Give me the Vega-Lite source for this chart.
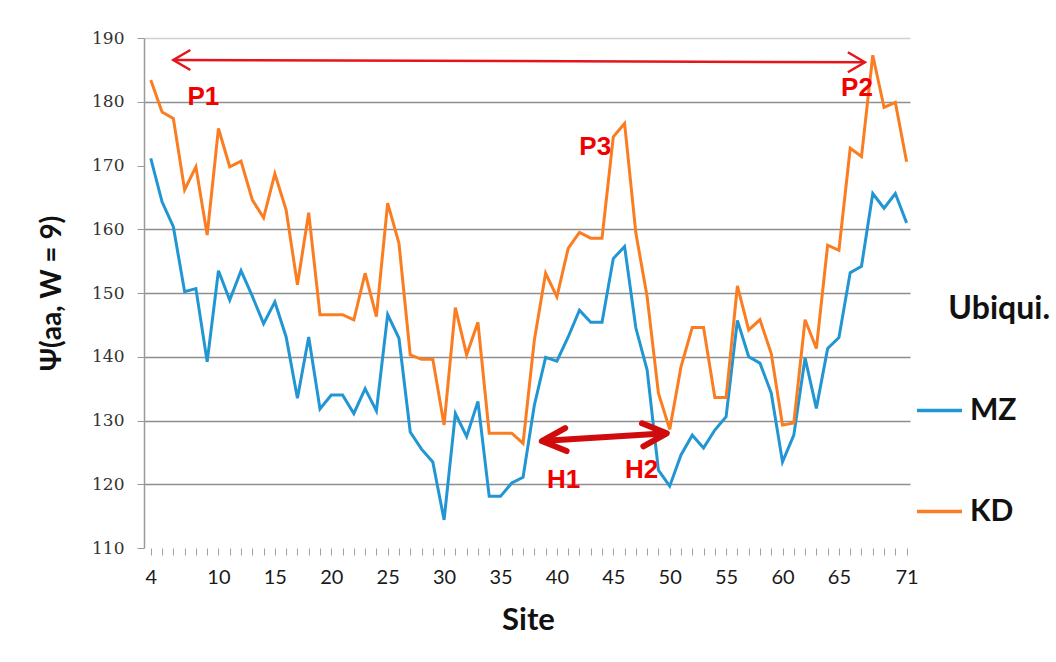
{
  "$schema": "https://vega.github.io/schema/vega-lite/v6.json",
  "width": 766,
  "height": 510,
  "autosize": {"type": "none"},
  "padding": {"left": 144, "top": 38, "right": 146, "bottom": 114},
  "background": "white",
  "config": {"view": {"stroke": null}, "font": "Lato"},
  "title": {"text": "Ubiqui.", "anchor": "end", "frame": "group", "orient": "top", "offset": 0, "dx": 140, "dy": 312, "baseline": "middle", "font": "Lato", "fontSize": 32, "fontWeight": "bold", "color": "#111111"},
  "datasets": {
    "psi": [
      {"site":4,"series":"MZ","value":171.1},{"site":5,"series":"MZ","value":164.3},{"site":6,"series":"MZ","value":160.4},{"site":7,"series":"MZ","value":150.2},{"site":8,"series":"MZ","value":150.7},{"site":9,"series":"MZ","value":139.2},{"site":10,"series":"MZ","value":153.5},{"site":11,"series":"MZ","value":148.9},{"site":12,"series":"MZ","value":153.5},{"site":13,"series":"MZ","value":149.5},{"site":14,"series":"MZ","value":145.2},{"site":15,"series":"MZ","value":148.6},{"site":16,"series":"MZ","value":143.1},{"site":17,"series":"MZ","value":133.5},{"site":18,"series":"MZ","value":143.1},{"site":19,"series":"MZ","value":131.8},{"site":20,"series":"MZ","value":134.0},{"site":21,"series":"MZ","value":134.0},{"site":22,"series":"MZ","value":131.1},{"site":23,"series":"MZ","value":135.0},{"site":24,"series":"MZ","value":131.5},{"site":25,"series":"MZ","value":146.6},{"site":26,"series":"MZ","value":142.9},{"site":27,"series":"MZ","value":128.2},{"site":28,"series":"MZ","value":125.5},{"site":29,"series":"MZ","value":123.5},{"site":30,"series":"MZ","value":114.4},{"site":31,"series":"MZ","value":131.1},{"site":32,"series":"MZ","value":127.5},{"site":33,"series":"MZ","value":133.0},{"site":34,"series":"MZ","value":118.1},{"site":35,"series":"MZ","value":118.1},{"site":36,"series":"MZ","value":120.2},{"site":37,"series":"MZ","value":121.1},{"site":38,"series":"MZ","value":132.4},{"site":39,"series":"MZ","value":139.9},{"site":40,"series":"MZ","value":139.3},{"site":41,"series":"MZ","value":143.1},{"site":42,"series":"MZ","value":147.3},{"site":43,"series":"MZ","value":145.4},{"site":44,"series":"MZ","value":145.4},{"site":45,"series":"MZ","value":155.4},{"site":46,"series":"MZ","value":157.3},{"site":47,"series":"MZ","value":144.5},{"site":48,"series":"MZ","value":137.9},{"site":49,"series":"MZ","value":122.2},{"site":50,"series":"MZ","value":119.7},{"site":51,"series":"MZ","value":124.6},{"site":52,"series":"MZ","value":127.7},{"site":53,"series":"MZ","value":125.7},{"site":54,"series":"MZ","value":128.5},{"site":55,"series":"MZ","value":130.6},{"site":56,"series":"MZ","value":145.7},{"site":57,"series":"MZ","value":140.0},{"site":58,"series":"MZ","value":139.0},{"site":59,"series":"MZ","value":134.3},{"site":60,"series":"MZ","value":123.5},{"site":61,"series":"MZ","value":127.7},{"site":62,"series":"MZ","value":139.8},{"site":63,"series":"MZ","value":131.9},{"site":64,"series":"MZ","value":141.3},{"site":65,"series":"MZ","value":143.0},{"site":66,"series":"MZ","value":153.2},{"site":67,"series":"MZ","value":154.2},{"site":68,"series":"MZ","value":165.6},{"site":69,"series":"MZ","value":163.3},{"site":70,"series":"MZ","value":165.6},{"site":71,"series":"MZ","value":161.0},
      {"site":4,"series":"KD","value":183.4},{"site":5,"series":"KD","value":178.4},{"site":6,"series":"KD","value":177.4},{"site":7,"series":"KD","value":166.2},{"site":8,"series":"KD","value":169.8},{"site":9,"series":"KD","value":159.1},{"site":10,"series":"KD","value":175.8},{"site":11,"series":"KD","value":169.8},{"site":12,"series":"KD","value":170.7},{"site":13,"series":"KD","value":164.6},{"site":14,"series":"KD","value":161.8},{"site":15,"series":"KD","value":168.7},{"site":16,"series":"KD","value":163.0},{"site":17,"series":"KD","value":151.3},{"site":18,"series":"KD","value":162.6},{"site":19,"series":"KD","value":146.6},{"site":20,"series":"KD","value":146.6},{"site":21,"series":"KD","value":146.6},{"site":22,"series":"KD","value":145.8},{"site":23,"series":"KD","value":153.1},{"site":24,"series":"KD","value":146.3},{"site":25,"series":"KD","value":164.1},{"site":26,"series":"KD","value":157.8},{"site":27,"series":"KD","value":140.3},{"site":28,"series":"KD","value":139.6},{"site":29,"series":"KD","value":139.6},{"site":30,"series":"KD","value":129.3},{"site":31,"series":"KD","value":147.7},{"site":32,"series":"KD","value":140.3},{"site":33,"series":"KD","value":145.4},{"site":34,"series":"KD","value":128.0},{"site":35,"series":"KD","value":128.0},{"site":36,"series":"KD","value":128.0},{"site":37,"series":"KD","value":126.4},{"site":38,"series":"KD","value":142.6},{"site":39,"series":"KD","value":153.1},{"site":40,"series":"KD","value":149.4},{"site":41,"series":"KD","value":157.0},{"site":42,"series":"KD","value":159.5},{"site":43,"series":"KD","value":158.6},{"site":44,"series":"KD","value":158.6},{"site":45,"series":"KD","value":174.5},{"site":46,"series":"KD","value":176.6},{"site":47,"series":"KD","value":159.4},{"site":48,"series":"KD","value":149.4},{"site":49,"series":"KD","value":134.3},{"site":50,"series":"KD","value":128.6},{"site":51,"series":"KD","value":138.4},{"site":52,"series":"KD","value":144.6},{"site":53,"series":"KD","value":144.6},{"site":54,"series":"KD","value":133.6},{"site":55,"series":"KD","value":133.6},{"site":56,"series":"KD","value":151.1},{"site":57,"series":"KD","value":144.2},{"site":58,"series":"KD","value":145.8},{"site":59,"series":"KD","value":140.5},{"site":60,"series":"KD","value":129.3},{"site":61,"series":"KD","value":129.6},{"site":62,"series":"KD","value":145.8},{"site":63,"series":"KD","value":141.3},{"site":64,"series":"KD","value":157.5},{"site":65,"series":"KD","value":156.7},{"site":66,"series":"KD","value":172.7},{"site":67,"series":"KD","value":171.4},{"site":68,"series":"KD","value":187.3},{"site":69,"series":"KD","value":179.1},{"site":70,"series":"KD","value":179.9},{"site":71,"series":"KD","value":170.6}
    ],
    "arrows": [
      {"arrow":"P","x1":6.0,"y1":186.55,"x2":67.3,"y2":186.2},
      {"arrow":"H","x1":38.66,"y1":126.78,"x2":49.74,"y2":127.99}
    ],
    "labels": [
      {"label":"P1","site":8.66,"value":180.8},
      {"label":"P2","site":66.6,"value":182.1},
      {"label":"P3","site":43.4,"value":172.95},
      {"label":"H1","site":40.6,"value":120.7},
      {"label":"H2","site":47.5,"value":122.2}
    ]
  },
  "layer": [
    {
      "data": {"name": "psi"},
      "mark": {"type": "line", "strokeWidth": 3},
      "encoding": {
        "x": {
          "field": "site", "type": "quantitative",
          "scale": {"domain": [3.4, 71.3], "nice": false, "zero": false},
          "axis": {
            "title": "Site",
            "values": [4,5,6,7,8,9,10,11,12,13,14,15,16,17,18,19,20,21,22,23,24,25,26,27,28,29,30,31,32,33,34,35,36,37,38,39,40,41,42,43,44,45,46,47,48,49,50,51,52,53,54,55,56,57,58,59,60,61,62,63,64,65,66,67,68,69,70,71],
            "tickCount": 200,
            "format": "d",
            "labelExpr": "(datum.value == 4 || datum.value == 71 || (datum.value % 5 == 0 && datum.value >= 10 && datum.value <= 65)) ? datum.label : ''",
            "labelOverlap": false,
            "labelFlush": false,
            "grid": false,
            "domain": false,
            "tickColor": "#a0a0a0",
            "tickSize": 7,
            "tickWidth": 1,
            "labelFont": "Lato",
            "labelFontSize": 20,
            "labelColor": "#1a1a1a",
            "labelPadding": 12,
            "titleFont": "Lato",
            "titleFontSize": 31,
            "titleFontWeight": "bold",
            "titleColor": "#111111",
            "titleX": 384,
            "titleY": 72,
            "titleBaseline": "middle"
          }
        },
        "y": {
          "field": "value", "type": "quantitative",
          "scale": {"domain": [110, 190], "nice": false, "zero": false},
          "axis": {
            "title": "Ψ(aa, W = 9)",
            "values": [110,120,130,140,150,160,170,180,190],
            "tickCount": 20,
            "format": "d",
            "grid": true,
            "gridColor": {"condition": {"test": "datum.value === 190", "value": "#cfcfcf"}, "value": "#8e8e8e"},
            "gridOpacity": {"condition": {"test": "datum.value === 170 || datum.value === 110", "value": 0}, "value": 1},
            "gridWidth": 1.5,
            "domainColor": "#9a9a9a",
            "domainWidth": 1.5,
            "tickColor": "#9a9a9a",
            "tickSize": 7,
            "labelFont": "DejaVu Serif",
            "labelFontSize": 17,
            "labelColor": "#333333",
            "labelPadding": 13,
            "titleFont": "Lato",
            "titleFontSize": 28,
            "titleFontWeight": "bold",
            "titleColor": "#111111",
            "titleX": -92,
            "titleY": 255,
            "titleBaseline": "middle"
          }
        },
        "color": {
          "field": "series", "type": "nominal",
          "scale": {"domain": ["MZ", "KD"], "range": ["#2196d3", "#fb7d22"]},
          "legend": {
            "orient": "none",
            "legendX": 771,
            "legendY": 348,
            "title": null,
            "labelFont": "Lato",
            "labelFontSize": 30,
            "labelFontWeight": "bold",
            "labelColor": "#111111",
            "symbolType": "stroke",
            "symbolSize": 2025,
            "symbolStrokeWidth": 3.5,
            "rowPadding": 61,
            "labelOffset": 6
          }
        }
      }
    },
    {
      "data": {"name": "arrows"},
      "transform": [{"filter": "datum.arrow === 'P'"}],
      "mark": {"type": "rule", "color": "#e8141b", "strokeWidth": 2.5},
      "encoding": {
        "x": {"field": "x1", "type": "quantitative"},
        "y": {"field": "y1", "type": "quantitative"},
        "x2": {"field": "x2"},
        "y2": {"field": "y2"}
      }
    },
    {
      "data": {"name": "arrows"},
      "transform": [{"filter": "datum.arrow === 'P'"}],
      "mark": {"type": "point", "shape": "M-1.7,-1L0,0L-1.7,1", "filled": false, "color": "#e8141b", "strokeWidth": 2.5, "size": 400, "angle": 180, "opacity": 1, "strokeJoin": "miter"},
      "encoding": {
        "x": {"field": "x1", "type": "quantitative"},
        "y": {"field": "y1", "type": "quantitative"}
      }
    },
    {
      "data": {"name": "arrows"},
      "transform": [{"filter": "datum.arrow === 'P'"}],
      "mark": {"type": "point", "shape": "M-1.7,-1L0,0L-1.7,1", "filled": false, "color": "#e8141b", "strokeWidth": 2.5, "size": 400, "angle": 0, "opacity": 1, "strokeJoin": "miter"},
      "encoding": {
        "x": {"field": "x2", "type": "quantitative"},
        "y": {"field": "y2", "type": "quantitative"}
      }
    },
    {
      "data": {"name": "arrows"},
      "transform": [{"filter": "datum.arrow === 'H'"}],
      "mark": {"type": "rule", "color": "#d00b0b", "strokeWidth": 6},
      "encoding": {
        "x": {"field": "x1", "type": "quantitative"},
        "y": {"field": "y1", "type": "quantitative"},
        "x2": {"field": "x2"},
        "y2": {"field": "y2"}
      }
    },
    {
      "data": {"name": "arrows"},
      "transform": [{"filter": "datum.arrow === 'H'"}],
      "mark": {"type": "point", "shape": "M-2.1,-1L0,0L-2.1,1", "filled": false, "color": "#d00b0b", "strokeWidth": 6, "size": 529, "angle": 176.5, "opacity": 1, "strokeJoin": "round", "strokeCap": "round"},
      "encoding": {
        "x": {"field": "x1", "type": "quantitative"},
        "y": {"field": "y1", "type": "quantitative"}
      }
    },
    {
      "data": {"name": "arrows"},
      "transform": [{"filter": "datum.arrow === 'H'"}],
      "mark": {"type": "point", "shape": "M-2.1,-1L0,0L-2.1,1", "filled": false, "color": "#d00b0b", "strokeWidth": 6, "size": 529, "angle": -3.5, "opacity": 1, "strokeJoin": "round", "strokeCap": "round"},
      "encoding": {
        "x": {"field": "x2", "type": "quantitative"},
        "y": {"field": "y2", "type": "quantitative"}
      }
    },
    {
      "data": {"name": "labels"},
      "mark": {"type": "text", "font": "Liberation Sans", "fontWeight": "bold", "fontSize": 26, "color": "#f20000", "align": "center", "baseline": "middle"},
      "encoding": {
        "x": {"field": "site", "type": "quantitative"},
        "y": {"field": "value", "type": "quantitative"},
        "text": {"field": "label"}
      }
    }
  ]
}
